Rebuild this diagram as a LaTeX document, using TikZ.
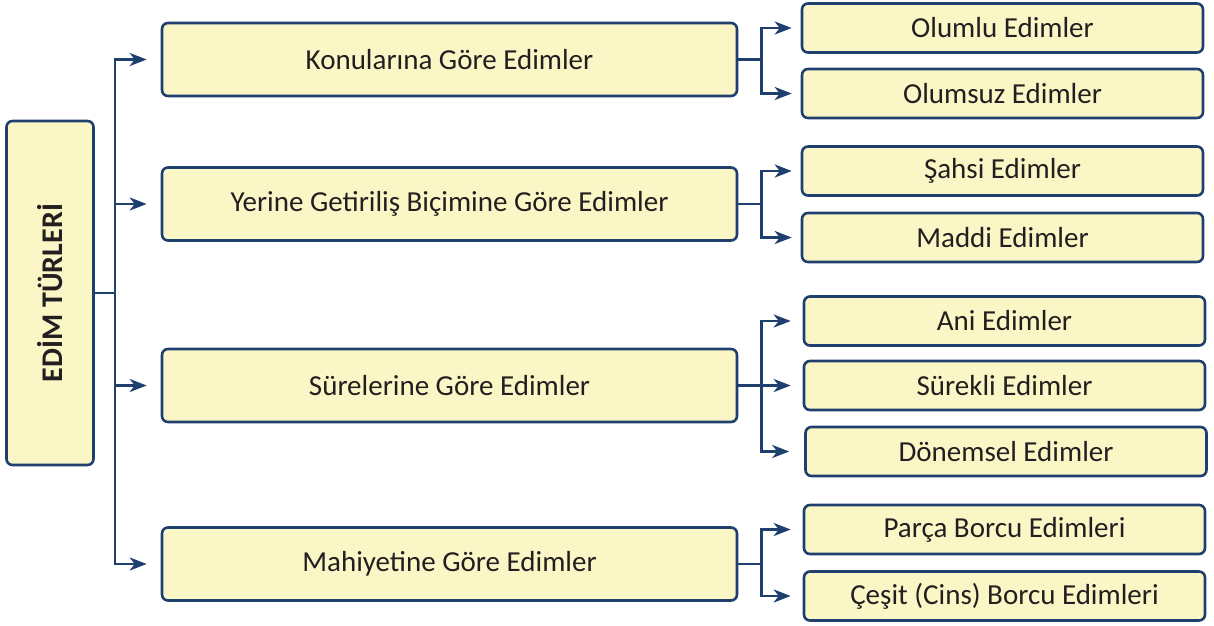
\documentclass[tikz,border=0pt]{standalone}
\usepackage{fontspec}
\setmainfont{Carlito}
\usetikzlibrary{arrows.meta,calc}
\definecolor{navy}{HTML}{1F3F6E}
\definecolor{boxfill}{HTML}{FBF6C6}
\definecolor{ink}{HTML}{231F20}
\tikzset{
  box/.style={draw=navy, fill=boxfill, line width=2.6pt, rounded corners=6pt,
    text=ink, inner sep=0pt, font=\fontsize{29}{34}\selectfont},
  midbox/.style={box, minimum width=575pt, minimum height=73pt},
  leafbox/.style={box, minimum width=401pt, minimum height=49pt},
  link/.style={draw=navy, line width=2.6pt},
  arr/.style={link, -{Stealth[length=17pt,width=13pt,inset=5pt]}}
}
\begin{document}
\begin{tikzpicture}[x=1pt,y=-1pt]
\useasboundingbox (0,0) rectangle (1214,625);

% root box with vertical title
\node[box, minimum width=87pt, minimum height=344pt] (root) at (50,293) {};
\node[rotate=90, text=ink, font=\fontsize{30}{35}\selectfont\bfseries] (roottext) at (root) {EDİM TÜRLERİ};

% second level
\node[midbox] (konu)  at (449.5,59.5)  {Konularına Göre Edimler};
\node[midbox] (yerine) at (449.5,204)  {Yerine Getiriliş Biçimine Göre Edimler};
\node[midbox] (sure)  at (449.5,385.5) {Sürelerine Göre Edimler};
\node[midbox] (mahiyet) at (449.5,564) {Mahiyetine Göre Edimler};

% leaves
\node[leafbox] (olumlu)   at (1002.5,28)   {Olumlu Edimler};
\node[leafbox] (olumsuz)  at (1002.5,93.5) {Olumsuz Edimler};
\node[leafbox] (sahsi)    at (1002.5,171)  {Şahsi Edimler};
\node[leafbox] (maddi)    at (1002.5,237.5) {Maddi Edimler};
\node[leafbox] (ani)      at (1004.5,321)  {Ani Edimler};
\node[leafbox] (surekli)  at (1004.5,385.5) {Sürekli Edimler};
\node[leafbox] (donemsel) at (1006,451.5)  {Dönemsel Edimler};
\node[leafbox] (parca)    at (1004.5,529.5) {Parça Borcu Edimleri};
\node[leafbox] (cesit)    at (1004.5,596)  {Çeşit (Cins) Borcu Edimleri};

% trunk from the root
\coordinate (j0) at (115,293);
\draw[link] (root.east) -- (j0);
\foreach \m in {konu,yerine,sure,mahiyet}
  \draw[arr] (j0) |- ([xshift=-14pt]\m.west);

% branches to the leaves
\coordinate (j1) at ([xshift=23pt]konu.east);
\coordinate (j2) at ([xshift=23pt]yerine.east);
\coordinate (j3) at ([xshift=23pt]sure.east);
\coordinate (j4) at ([xshift=23pt]mahiyet.east);
\draw[link] (konu.east) -- (j1);
\draw[link] (yerine.east) -- (j2);
\draw[link] (sure.east) -- (j3);
\draw[link] (mahiyet.east) -- (j4);
\draw[arr] (j1) |- ([xshift=-9pt]olumlu.west);
\draw[arr] (j1) |- ([xshift=-9pt]olumsuz.west);
\draw[arr] (j2) |- ([xshift=-9pt]sahsi.west);
\draw[arr] (j2) |- ([xshift=-9pt]maddi.west);
\draw[arr] (j3) |- ([xshift=-12pt]ani.west);
\draw[arr] (j3) -- ([xshift=-12pt]surekli.west);
\draw[arr] (j3) |- ([xshift=-15pt]donemsel.west);
\draw[arr] (j4) |- ([xshift=-12pt]parca.west);
\draw[arr] (j4) |- ([xshift=-12pt]cesit.west);
\end{tikzpicture}
\end{document}
